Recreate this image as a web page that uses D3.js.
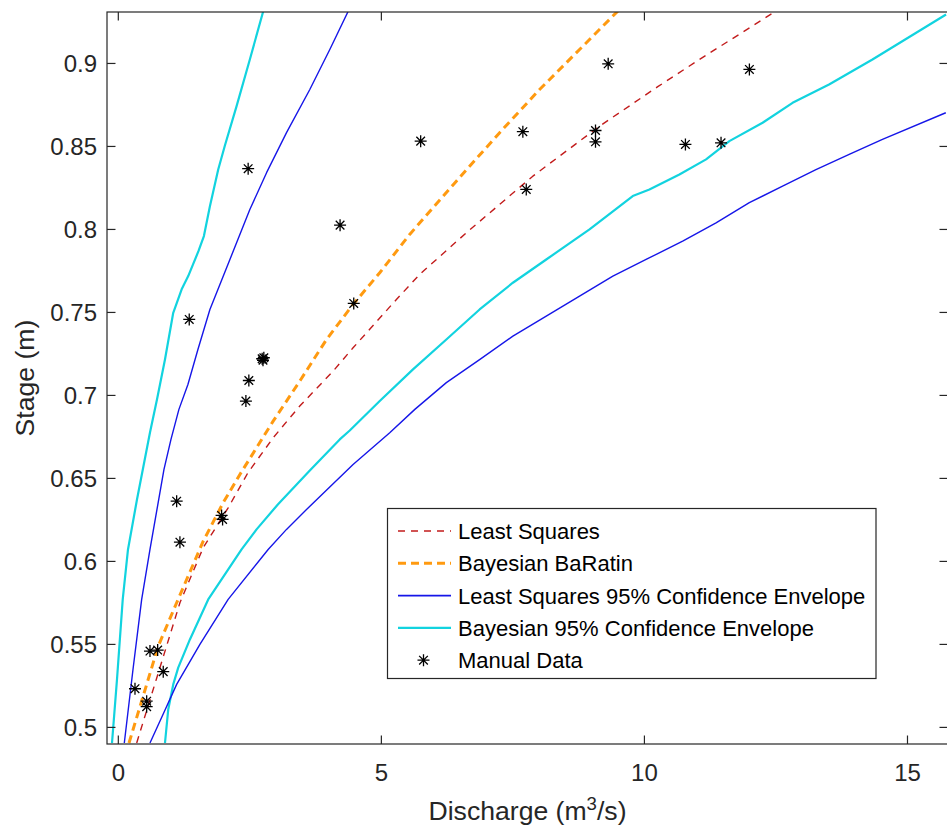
<!DOCTYPE html>
<html>
<head>
<meta charset="utf-8">
<script src="https://cdn.jsdelivr.net/npm/d3@7"></script>
<style>
  html, body { margin: 0; padding: 0; background: #fff; }
  svg { display: block; font-family: "Liberation Sans", Arial, Helvetica, sans-serif; }
</style>
</head>
<body>
<svg id="chart" width="947" height="835"></svg>
<script>
// ---- Rating curves: [discharge (m^3/s), stage (m)] ----
const leastSquares = [
  [0.349, 0.4906], [1.171, 0.5751], [1.614, 0.6083], [2.088, 0.6323], [2.463, 0.6534],
  [2.943, 0.6745], [3.449, 0.6936], [4.082, 0.7146], [4.462, 0.7287], [5.286, 0.7578],
  [5.728, 0.7729], [6.615, 0.7980], [7.879, 0.8321], [9.146, 0.8622], [10.253, 0.8860],
  [11.046, 0.9024], [12.468, 0.9309]
];
const bayesianBaRatin = [
  [0.203, 0.4906], [0.759, 0.5490], [1.109, 0.5751], [1.614, 0.6122], [1.994, 0.6354],
  [2.311, 0.6524], [2.628, 0.6685], [2.943, 0.6845], [3.197, 0.6966], [3.469, 0.7096],
  [3.957, 0.7337], [4.462, 0.7548], [4.969, 0.7739], [5.538, 0.7970], [6.425, 0.8291],
  [7.248, 0.8583], [8.007, 0.8843], [8.767, 0.9084], [9.493, 0.9315]
];
// Least squares 95% envelope, low-discharge and high-discharge bounds
const lsEnvelopeLow = [
  [0.114, 0.4906], [0.279, 0.5349], [0.444, 0.5771], [0.602, 0.6072], [0.735, 0.6313],
  [0.868, 0.6554], [1.001, 0.6735], [1.152, 0.6916], [1.323, 0.7066], [1.513, 0.7277],
  [1.741, 0.7518], [2.121, 0.7819], [2.500, 0.8120], [2.818, 0.8342], [3.197, 0.8583],
  [3.640, 0.8843], [4.020, 0.9084], [4.367, 0.9313]
];
const lsEnvelopeHigh = [
  [0.602, 0.4906], [0.875, 0.5096], [1.109, 0.5259], [1.551, 0.5500], [2.088, 0.5771],
  [2.848, 0.6072], [3.197, 0.6193], [3.577, 0.6313], [4.462, 0.6584], [5.159, 0.6775],
  [5.636, 0.6916], [6.235, 0.7077], [6.867, 0.7216], [7.500, 0.7357], [8.134, 0.7478],
  [8.767, 0.7598], [9.400, 0.7719], [10.032, 0.7819], [10.727, 0.7930], [11.361, 0.8040],
  [11.994, 0.8161], [12.626, 0.8261], [13.260, 0.8361], [13.892, 0.8452], [14.524, 0.8542],
  [15.728, 0.8703]
];
// Bayesian 95% envelope, low-discharge and high-discharge bounds
const bayesEnvelopeLow = [
  [-0.120, 0.4906], [-0.025, 0.5289], [0.084, 0.5771], [0.184, 0.6072], [0.355, 0.6373],
  [0.602, 0.6777], [0.735, 0.6976], [0.887, 0.7217], [1.044, 0.7498], [1.204, 0.7639],
  [1.329, 0.7719], [1.523, 0.7869], [1.627, 0.7960], [1.741, 0.8140], [1.899, 0.8361],
  [2.026, 0.8506], [2.248, 0.8743], [2.500, 0.9024], [2.753, 0.9313]
];
const bayesEnvelopeHigh = [
  [0.887, 0.4906], [0.949, 0.5108], [1.044, 0.5259], [1.139, 0.5360], [1.361, 0.5530],
  [1.709, 0.5771], [2.343, 0.6072], [2.628, 0.6193], [3.032, 0.6343], [3.640, 0.6548],
  [4.209, 0.6735], [4.399, 0.6789], [4.969, 0.6966], [5.601, 0.7157], [6.235, 0.7337],
  [6.867, 0.7518], [7.500, 0.7679], [8.134, 0.7819], [8.956, 0.8000], [9.778, 0.8201],
  [10.095, 0.8241], [10.665, 0.8331], [11.172, 0.8422], [11.614, 0.8532], [12.246, 0.8643],
  [12.816, 0.8763], [13.509, 0.8873], [14.334, 0.9024], [15.733, 0.9295]
];
// Manual gaugings
const manualQ = [0.317, 0.539, 0.539, 0.602, 0.748, 0.854, 1.109, 1.171, 1.963, 1.982,
  1.348, 2.425, 2.481, 2.734, 2.766, 2.750, 4.475, 2.468, 4.215, 5.747, 7.689, 7.754,
  9.070, 9.070, 9.311, 10.779, 11.456, 11.995];
const manualH = [0.5233, 0.5158, 0.5125, 0.5460, 0.5466, 0.5336, 0.6363, 0.6116, 0.6277, 0.6253,
  0.7458, 0.6966, 0.7090, 0.7221, 0.7227, 0.7212, 0.7554, 0.8366, 0.8026, 0.8532, 0.8589, 0.8241,
  0.8596, 0.8528, 0.8998, 0.8512, 0.8522, 0.8964];

const xTicks = [0, 5, 10, 15];
const yTicks = [0.5, 0.55, 0.6, 0.65, 0.7, 0.75, 0.8, 0.85, 0.9];
const legendLabels = ["Least Squares", "Bayesian BaRatin",
  "Least Squares 95% Confidence Envelope", "Bayesian 95% Confidence Envelope", "Manual Data"];

// ---- Layout ----
const svg = d3.select("#chart");
const plot = { left: 107, right: 948, top: 12, bottom: 744 };
const x = d3.scaleLinear().domain([-0.215, 15.77]).range([plot.left, plot.right]);
const y = d3.scaleLinear().domain([0.49, 0.931]).range([plot.bottom, plot.top]);

const colors = {
  ls: "#c21b1b", bay: "#ff9a10", lsEnv: "#1616e8", bayEnv: "#12d3df", axis: "#262626"
};
const tickFont = 24, legendFont = 22, labelFont = 26.6;

svg.append("defs").append("clipPath").attr("id", "plotClip")
  .append("rect").attr("x", plot.left).attr("y", plot.top)
  .attr("width", plot.right - plot.left).attr("height", plot.bottom - plot.top);

const line = d3.line().x(d => x(d[0])).y(d => y(d[1]));
const g = svg.append("g").attr("clip-path", "url(#plotClip)");

function drawCurve(data, color, width, dash) {
  g.append("path").datum(data).attr("d", line)
    .attr("fill", "none").attr("stroke", color).attr("stroke-width", width)
    .attr("stroke-dasharray", dash || null).attr("stroke-linejoin", "round");
}
drawCurve(bayesEnvelopeLow, colors.bayEnv, 2.2);
drawCurve(bayesEnvelopeHigh, colors.bayEnv, 2.2);
drawCurve(lsEnvelopeLow, colors.lsEnv, 1.4);
drawCurve(lsEnvelopeHigh, colors.lsEnv, 1.4);
drawCurve(leastSquares, colors.ls, 1.4, "7,6");
drawCurve(bayesianBaRatin, colors.bay, 3, "8,5");

// Asterisk marker (plus + cross)
function starPath(s) {
  const a = s * 0.72;
  return `M${-s},0H${s}M0,${-s}V${s}M${-a},${-a}L${a},${a}M${-a},${a}L${a},${-a}`;
}
g.selectAll("path.star").data(manualQ.map((q, i) => [q, manualH[i]])).join("path")
  .attr("class", "star")
  .attr("transform", d => `translate(${x(d[0])},${y(d[1])})`)
  .attr("d", starPath(6)).attr("fill", "none").attr("stroke", "#000").attr("stroke-width", 1.3);

// ---- Axes (box with inward ticks) ----
const axisG = svg.append("g").attr("stroke", colors.axis).attr("stroke-width", 1.2).attr("fill", "none");
axisG.append("rect").attr("x", plot.left).attr("y", plot.top)
  .attr("width", plot.right - plot.left).attr("height", plot.bottom - plot.top);
const tl = 8.5;
xTicks.forEach(t => {
  const px = x(t);
  axisG.append("line").attr("x1", px).attr("x2", px).attr("y1", plot.bottom).attr("y2", plot.bottom - tl);
  axisG.append("line").attr("x1", px).attr("x2", px).attr("y1", plot.top).attr("y2", plot.top + tl);
});
yTicks.forEach(t => {
  const py = y(t);
  axisG.append("line").attr("x1", plot.left).attr("x2", plot.left + tl).attr("y1", py).attr("y2", py);
  axisG.append("line").attr("x1", plot.right).attr("x2", plot.right - tl).attr("y1", py).attr("y2", py);
});

const fmt = v => String(+v.toFixed(2));
svg.append("g").selectAll("text").data(xTicks).join("text")
  .attr("x", d => x(d)).attr("y", plot.bottom + 37)
  .attr("text-anchor", "middle").attr("font-size", tickFont).attr("fill", colors.axis)
  .text(fmt);
svg.append("g").selectAll("text").data(yTicks).join("text")
  .attr("x", plot.left - 10).attr("y", d => y(d)).attr("dy", "0.36em")
  .attr("text-anchor", "end").attr("font-size", tickFont).attr("fill", colors.axis)
  .text(fmt);

// Axis titles
const xl = svg.append("text").attr("x", (plot.left + plot.right) / 2).attr("y", 820)
  .attr("text-anchor", "middle").attr("font-size", labelFont).attr("fill", colors.axis);
xl.append("tspan").text("Discharge (m");
xl.append("tspan").attr("font-size", labelFont * 0.7).attr("dy", -10).text("3");
xl.append("tspan").attr("dy", 10).text("/s)");

svg.append("text").attr("transform", `translate(34,${(plot.top + plot.bottom) / 2}) rotate(-90)`)
  .attr("text-anchor", "middle").attr("font-size", labelFont).attr("fill", colors.axis)
  .text("Stage (m)");

// ---- Legend ----
const leg = svg.append("g");
const lgBox = { x: 387.5, y: 508.5, w: 488.5, h: 170 };
leg.append("rect").attr("x", lgBox.x).attr("y", lgBox.y).attr("width", lgBox.w).attr("height", lgBox.h)
  .attr("fill", "#fff").attr("stroke", colors.axis).attr("stroke-width", 1.2);
const legendStyles = [
  { color: colors.ls, width: 1.4, dash: "7,6", type: "line" },
  { color: colors.bay, width: 3, dash: "8,5", type: "line" },
  { color: colors.lsEnv, width: 1.6, type: "line" },
  { color: colors.bayEnv, width: 2.2, type: "line" },
  { type: "star" }
];
legendLabels.forEach((lab, i) => {
  const cy = 531 + i * 32.3;
  const st = legendStyles[i];
  if (st.type === "line") {
    leg.append("line").attr("x1", 398).attr("x2", 451).attr("y1", cy).attr("y2", cy)
      .attr("stroke", st.color).attr("stroke-width", st.width).attr("stroke-dasharray", st.dash || null);
  } else {
    leg.append("path").attr("transform", `translate(423.5,${cy})`).attr("d", starPath(6))
      .attr("fill", "none").attr("stroke", "#000").attr("stroke-width", 1.3);
  }
  leg.append("text").attr("x", 458).attr("y", cy).attr("dy", "0.36em")
    .attr("font-size", legendFont).attr("fill", "#000").text(lab);
});
</script>
</body>
</html>
